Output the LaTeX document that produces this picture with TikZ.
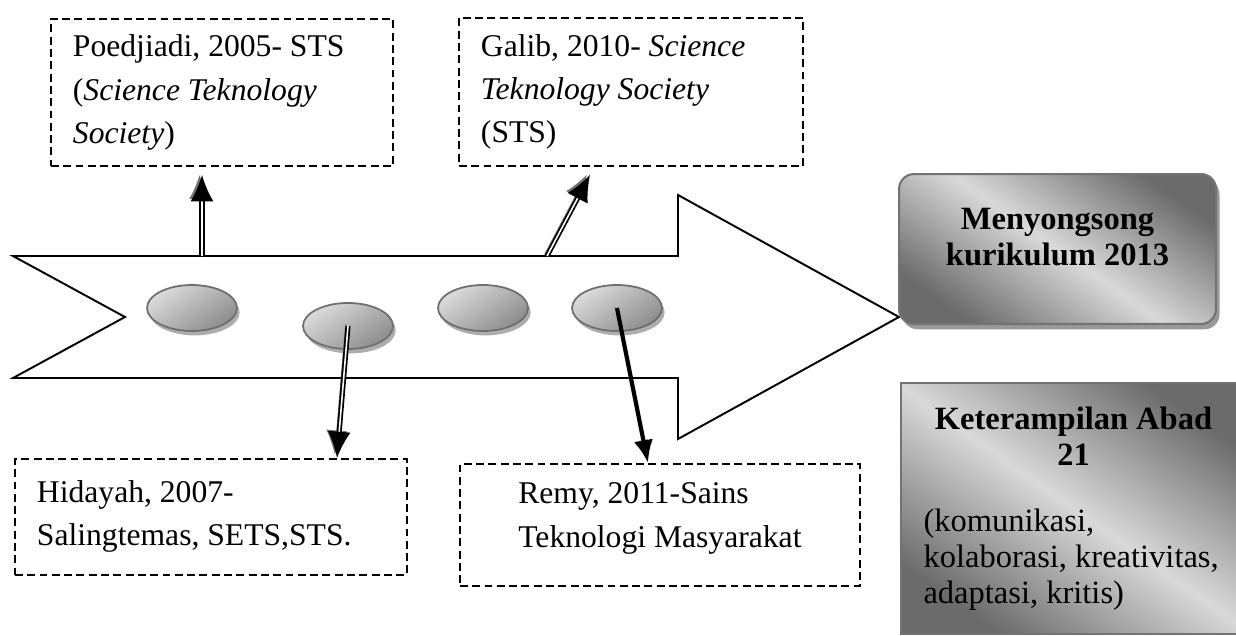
\documentclass[tikz,border=0pt]{standalone}
\usepackage{fontspec}
\setmainfont{Liberation Serif}
\usepackage{tikz}
\usetikzlibrary{calc,arrows.meta,positioning,shadows,shapes}
\tikzset{
  catatan/.style={draw, dash pattern=on 4.5pt off 2.5pt, line width=1.1pt,
    anchor=north west, align=flush left, inner xsep=0.44cm,
    font=\fontsize{18}{24.5}\selectfont},
  titik/.style={ellipse, draw=black!57, line width=1pt,
    minimum width=1.8cm, minimum height=0.92cm,
    top color=black!14, bottom color=black!45, shading angle=35,
    drop shadow={shadow xshift=1.5pt, shadow yshift=-2.5pt, fill=black!32, opacity=1}},
  kotak/.style={draw=black!55, line width=1.2pt, anchor=north west,
    top color=black!58, bottom color=black!58, middle color=black!15, shading angle=-35,
    font=\fontsize{18.5}{20.5}\selectfont},
  panah/.style={-{Latex[length=15pt,width=13pt]}, draw=black, double=white,
    line width=1pt, double distance=0.9pt,
    preaction={draw=black!55, transform canvas={xshift=-1.4pt, yshift=1pt}}},
  panahtebal/.style={-{Latex[length=13pt,width=11pt]}, draw=black, line width=2.3pt,
    preaction={draw=black!45, transform canvas={xshift=-1.3pt, yshift=1pt}}}
}

\begin{document}
\begin{tikzpicture}[x=0.02cm, y=-0.02cm]
\useasboundingbox (0,0) rectangle (1236,635);
% garis waktu
\draw[line width=1.1pt, fill=white] (13,256) -- (678,256) -- (678,195) -- (899,317)
  -- (678,439) -- (678,378) -- (13,378) -- (125,317) -- cycle;
\coordinate (a1) at (202,256);
\coordinate (a2) at (547,256);

\node[catatan, minimum width=6.84cm, minimum height=2.94cm, text width=5.96cm] (poedjiadi) at (50,18)
  {Poedjiadi, 2005- STS\\(\textit{Science Teknology}\\\textit{Society})};
\node[catatan, minimum width=6.88cm, minimum height=2.96cm, text width=6cm] (galib) at (458,17)
  {Galib, 2010- \textit{Science}\\\textit{Teknology Society}\\(STS)};
\node[catatan, minimum width=7.84cm, minimum height=2.32cm, text width=6.96cm] (hidayah) at (14,458)
  {Hidayah, 2007-\\Salingtemas, SETS,STS.\rule[-0.15cm]{0pt}{0.15cm}};
\node[catatan, minimum width=8cm, minimum height=2.44cm] (remy) at (459,463)
  {Remy, 2011-Sains\\Teknologi Masyarakat\rule[-0.4cm]{0pt}{0.4cm}};

\node[titik] (e1) at (192,308) {};
\node[titik] (e2) at (348,326) {};
\node[titik] (e3) at (483,308) {};
\node[titik] (e4) at (617,308) {};

\draw[panah] (a1) -- ($(poedjiadi.south -| a1)+(0,8)$);
\draw[panah] (a2) -- ($(galib.south west)+(132,8)$);
\draw[panah] (e2.center) -- ($(hidayah.north west)+(323,0)$);
\draw[panahtebal] (e4.center) -- ($(remy.north west)+(189,0)$);

\node[kotak, rounded corners=0.3cm, minimum width=6.34cm, minimum height=3cm, align=center,
  drop shadow={shadow xshift=2pt, shadow yshift=-3pt, fill=black!40, opacity=1}] (kurikulum) at (898,173)
  {\bfseries Menyongsong\\\bfseries kurikulum 2013\rule[-0.5cm]{0pt}{0.5cm}};
\node[kotak, minimum width=6.9cm, minimum height=5.02cm, inner xsep=0.4cm, text width=6cm,
  align=flush left] (abad) at (900,382)
  {{\centering\bfseries Keterampilan Abad\\21\par}\vspace{0.6cm}(komunikasi,\\kolaborasi, kreativitas,\\adaptasi, kritis)\rule[-0.1cm]{0pt}{0.1cm}};
\end{tikzpicture}
\end{document}
